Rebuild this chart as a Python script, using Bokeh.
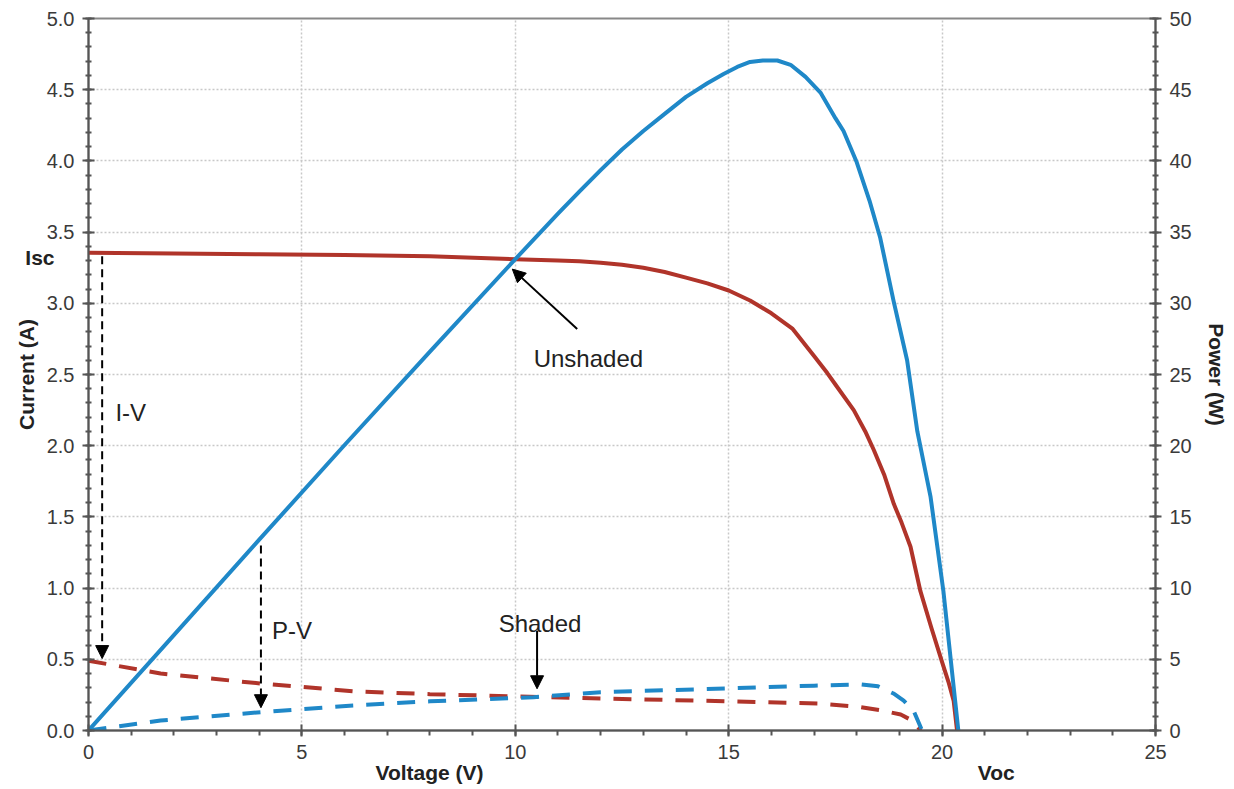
from bokeh.plotting import figure
from bokeh.models import (Range1d, LinearAxis, SingleIntervalTicker, PrintfTickFormatter,
                          FixedTicker, CustomJSTickFormatter, Label, Arrow, NormalHead)
from bokeh.embed import file_html
from bokeh.resources import INLINE

# ---- data ----
# Unshaded I-V curve (left axis, A)
iv_v = [0, 2, 4, 6, 8, 10, 11, 11.5, 12, 12.5, 13, 13.5, 14, 14.5, 15, 15.5, 16, 16.5, 17,
        17.31, 17.5, 17.93, 18.2, 18.4, 18.65, 18.87, 19.05, 19.26, 19.49, 19.75, 20.0,
        20.15, 20.27, 20.35]
iv_i = [3.355, 3.35, 3.345, 3.34, 3.33, 3.31, 3.30, 3.295, 3.285, 3.27, 3.25, 3.22, 3.18,
        3.14, 3.09, 3.02, 2.93, 2.82, 2.63, 2.51, 2.43, 2.25, 2.10, 1.97, 1.79, 1.59, 1.46,
        1.29, 0.98, 0.72, 0.48, 0.34, 0.21, 0.0]
# Unshaded P-V curve (right axis, W)
pv_v = [0, 2, 4, 6, 8, 10, 11, 11.5, 12, 12.5, 13, 13.5, 14, 14.5, 14.88, 15.2, 15.5, 15.8,
        16.14, 16.45, 16.8, 17.15, 17.5, 17.69, 18.0, 18.3, 18.55, 18.86, 19.18, 19.42,
        19.73, 20.03, 20.38]
pv_p = [0, 6.7, 13.4, 20.05, 26.6, 33.1, 36.3, 37.85, 39.35, 40.8, 42.1, 43.3, 44.5,
        45.45, 46.1, 46.6, 46.95, 47.05, 47.05, 46.75, 45.9, 44.8, 43.0, 42.1, 39.9, 37.2,
        34.6, 30.2, 26.0, 21.0, 16.4, 9.8, 0.0]
# Shaded I-V curve (left axis, A)
siv_v = [0, 1.69, 4.03, 6.2, 8, 10, 12, 15.1, 17.1, 18.1, 18.6, 19.03, 19.3, 19.5]
siv_i = [0.49, 0.40, 0.33, 0.276, 0.255, 0.24, 0.225, 0.204, 0.19, 0.164, 0.14, 0.112,
         0.07, 0.0]
# Shaded P-V curve (right axis, W)
spv_v = [0, 1.69, 4.03, 6.2, 8, 10.43, 12, 15.1, 17, 18.1, 18.5, 18.86, 19.1, 19.33, 19.53]
spv_p = [0, 0.7, 1.29, 1.76, 2.05, 2.34, 2.69, 2.97, 3.15, 3.23, 3.1, 2.6, 2.1, 1.4, 0.0]

# positions of the outer text labels on the axes
isc_tick = [3.32]
bottom_ticks = [7.99, 21.27]   # "Voltage (V)" and "Voc"

RED = "#b0342a"
BLUE = "#1f88c8"
FONT = "Liberation Sans"
TXT = "#222222"

p = figure(width=1234, height=789, output_backend="svg", toolbar_location=None,
           x_range=Range1d(0, 25), y_range=Range1d(0, 5),
           min_border_left=88, min_border_right=79, min_border_top=18, min_border_bottom=59,
           y_axis_label="Current (A)")
p.extra_y_ranges = {"p": Range1d(0, 50)}
p.background_fill_color = "white"
p.border_fill_color = "white"
p.outline_line_color = "#888888"
p.outline_line_width = 2

right = LinearAxis(y_range_name="p", axis_label="Power (W)")
p.add_layout(right, "right")

p.xaxis.ticker = SingleIntervalTicker(interval=5, num_minor_ticks=5)
p.yaxis[0].ticker = SingleIntervalTicker(interval=0.5, num_minor_ticks=5)
p.yaxis[0].formatter = PrintfTickFormatter(format="%.1f")
right.ticker = SingleIntervalTicker(interval=5, num_minor_ticks=5)

main_axes = [p.xaxis[0], p.yaxis[0], right]
for ax in main_axes:
    ax.axis_line_color = "#555555"
    ax.axis_line_width = 2
    ax.major_tick_line_color = "#555555"
    ax.major_tick_line_width = 2
    ax.minor_tick_line_color = "#555555"
    ax.minor_tick_line_width = 2
    ax.major_tick_in = 6
    ax.major_tick_out = 6
    ax.major_label_text_font = FONT
    ax.major_label_text_font_size = "20px"
    ax.major_label_text_color = "#3a3a3a"
    ax.axis_label_text_font = FONT
    ax.axis_label_text_font_size = "21px"
    ax.axis_label_text_font_style = "bold"
    ax.axis_label_text_color = TXT
    ax.major_label_standoff = 8

p.xaxis[0].minor_tick_in = 0
p.xaxis[0].minor_tick_out = 5
for ax in [p.yaxis[0], right]:
    ax.minor_tick_in = 3
    ax.minor_tick_out = 3
p.yaxis[0].axis_label_standoff = 6
right.axis_label_standoff = 10

# outer text-only axes: "Isc" on the left, "Voltage (V)" and "Voc" below
def text_axis(ticks, code, place, standoff):
    ax = LinearAxis(ticker=FixedTicker(ticks=ticks, minor_ticks=[]),
                    formatter=CustomJSTickFormatter(code=code))
    ax.axis_line_color = None
    ax.major_tick_line_color = None
    ax.minor_tick_line_color = None
    ax.major_tick_in = 0
    ax.major_tick_out = 0
    ax.major_label_text_font = FONT
    ax.major_label_text_font_size = "21px"
    ax.major_label_text_font_style = "bold"
    ax.major_label_text_color = TXT
    ax.major_label_standoff = standoff
    p.add_layout(ax, place)
    return ax

text_axis(isc_tick, "return 'Isc';", "left", -43)
text_axis(bottom_ticks, "return tick < 15 ? 'Voltage (V)' : 'Voc';", "below", -1)

p.xgrid.grid_line_color = "#c8c8c8"
p.xgrid.grid_line_dash = "2 2"
p.xgrid.grid_line_width = 1.5
p.ygrid.grid_line_color = "#c8c8c8"
p.ygrid.grid_line_dash = "2 2"
p.ygrid.grid_line_width = 1.5

# curves
p.line(iv_v, iv_i, line_color=RED, line_width=4, line_join="round")
p.line(pv_v, pv_p, line_color=BLUE, line_width=4, line_join="round", y_range_name="p")
p.line(siv_v, siv_i, line_color=RED, line_width=4, line_dash="18 13")
p.line(spv_v, spv_p, line_color=BLUE, line_width=4, line_dash="18 13", y_range_name="p")

# annotations
def arrow(x0, y0, x1, y1, dashed):
    a = Arrow(end=NormalHead(size=13, fill_color="black", line_color="black", line_width=1),
              x_start=x0, y_start=y0, x_end=x1, y_end=y1,
              line_color="black", line_width=2,
              line_dash="8 5" if dashed else "solid")
    p.add_layout(a)

arrow(0.32, 3.33, 0.32, 0.505, True)    # I-V
arrow(4.04, 1.30, 4.04, 0.16, True)     # P-V
arrow(11.45, 2.82, 9.93, 3.24, False)   # Unshaded
arrow(10.51, 0.70, 10.51, 0.293, False) # Shaded

def label(x, y, t, size="24px"):
    p.add_layout(Label(x=x, y=y, text=t, text_font=FONT, text_font_size=size,
                       text_color=TXT, text_align="left", text_baseline="alphabetic"))

label(0.63, 2.23, "I-V")
label(4.30, 0.70, "P-V")
label(10.43, 2.61, "Unshaded")
label(9.61, 0.749, "Shaded")

open("out.html", "w").write(file_html(p, INLINE))
